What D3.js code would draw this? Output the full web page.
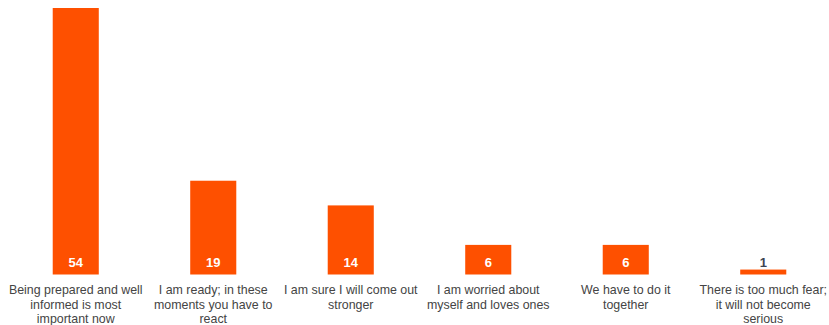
<!DOCTYPE html>
<html>
<head>
<meta charset="utf-8">
<script src="https://cdn.jsdelivr.net/npm/d3@7"></script>
<style>
  html, body { margin: 0; padding: 0; background: #fff; }
  svg { display: block; }
</style>
</head>
<body>
<svg id="chart" width="829" height="325"></svg>
<script>
// Survey answers (line breaks marked with "\n") and their share of respondents (%)
const categories = [
  "Being prepared and well\ninformed is most\nimportant now",
  "I am ready; in these\nmoments you have to\nreact",
  "I am sure I will come out\nstronger",
  "I am worried about\nmyself and loves ones",
  "We have to do it\ntogether",
  "There is too much fear;\nit will not become\nserious"
];
const values = [54, 19, 14, 6, 6, 1];

const baseline = 274.5;
const barColor = "#fe5000";
const font = "Liberation Sans, Arial, sans-serif";

const svg = d3.select("#chart");

const x = d3.scaleBand()
  .domain(categories)
  .range([7, 832])
  .paddingInner(0.665)
  .paddingOuter(0.3325);

const y = d3.scaleLinear()
  .domain([0, 54])
  .range([baseline, 8]);

const data = categories.map((c, i) => ({ cat: c, val: values[i] }));

// Bars
svg.append("g")
  .selectAll("rect")
  .data(data)
  .join("rect")
  .attr("x", d => x(d.cat))
  .attr("y", d => y(d.val))
  .attr("width", x.bandwidth())
  .attr("height", d => baseline - y(d.val))
  .attr("fill", barColor);

// Value labels at the foot of each bar (dark when the bar is too short)
svg.append("g")
  .selectAll("text")
  .data(data)
  .join("text")
  .attr("x", d => x(d.cat) + x.bandwidth() / 2)
  .attr("y", 267)
  .attr("text-anchor", "middle")
  .attr("font-family", font)
  .attr("font-size", 13)
  .attr("font-weight", "bold")
  .attr("fill", d => (baseline - y(d.val)) > 14 ? "#ffffff" : "#3d4452")
  .text(d => d.val);

// Category labels under the bars
svg.append("g")
  .selectAll("text")
  .data(data)
  .join("text")
  .attr("text-anchor", "middle")
  .attr("font-family", font)
  .attr("font-size", 12.4)
  .attr("fill", "#444444")
  .each(function(d) {
    const t = d3.select(this);
    const cx = x(d.cat) + x.bandwidth() / 2;
    d.cat.split("\n").forEach((l, i) => {
      t.append("tspan")
        .attr("x", cx)
        .attr("y", 294 + i * 14.5)
        .text(l);
    });
  });
</script>
</body>
</html>
